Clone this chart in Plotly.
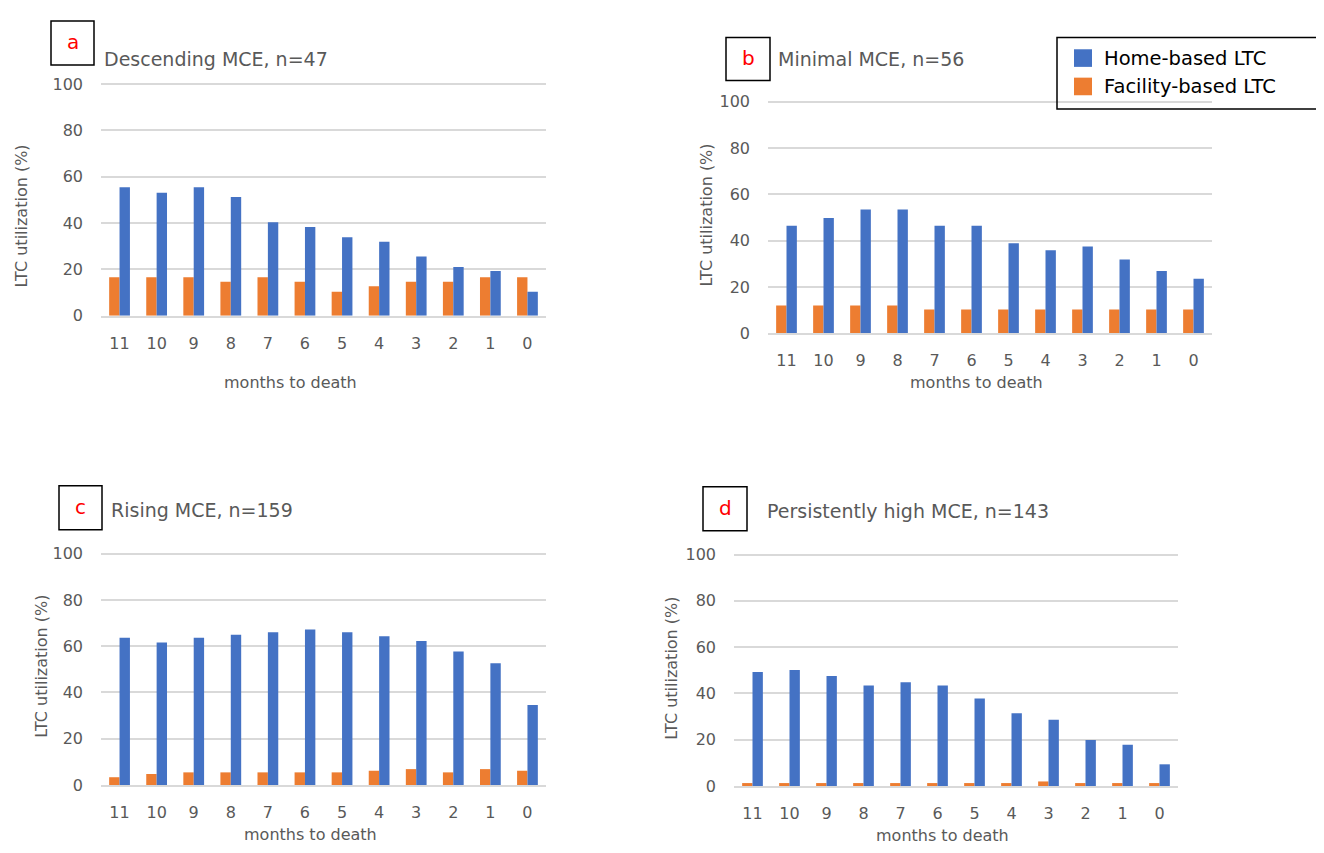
import plotly.graph_objects as go

# ---------------- data ----------------
months = ["11", "10", "9", "8", "7", "6", "5", "4", "3", "2", "1", "0"]

home_a = [55.4, 53.1, 55.4, 51.2, 40.3, 38.3, 33.8, 31.9, 25.5, 21.0, 19.3, 10.3]
fac_a = [16.6, 16.6, 16.6, 14.7, 16.6, 14.7, 10.3, 12.7, 14.7, 14.7, 16.6, 16.6]

home_b = [46.4, 49.8, 53.4, 53.4, 46.4, 46.4, 38.9, 35.8, 37.5, 31.9, 26.9, 23.5]
fac_b = [12.0, 12.0, 12.0, 12.0, 10.3, 10.3, 10.3, 10.3, 10.3, 10.3, 10.3, 10.3]

home_c = [63.6, 61.6, 63.6, 65.0, 66.0, 67.2, 66.0, 64.3, 62.3, 57.7, 52.6, 34.6]
fac_c = [3.4, 4.8, 5.5, 5.5, 5.5, 5.5, 5.5, 6.2, 6.9, 5.5, 6.9, 6.2]

home_d = [49.3, 50.1, 47.5, 43.4, 44.8, 43.4, 37.8, 31.5, 28.7, 19.9, 17.8, 9.4]
fac_d = [1.3, 1.3, 1.3, 1.3, 1.3, 1.3, 1.3, 1.3, 2.0, 1.3, 1.3, 1.3]

panel_letters = ["a", "b", "c", "d"]
panel_titles = ["Descending MCE, n=47", "Minimal MCE, n=56",
                "Rising MCE, n=159", "Persistently high MCE, n=143"]
series_names = ["Home-based LTC", "Facility-based LTC"]
y_ticks = [0, 20, 40, 60, 80, 100]
y_title = "LTC utilization (%)"
x_title = "months to death"

# ---------------- styling ----------------
# the page body has an 8px default margin; size the figure so the page fits the window
OFF = 8
W, H = 1324 - 2 * OFF, 853 - 2 * OFF
BLUE = "#4472C4"
ORANGE = "#ED7D31"
GRID = "#D9D9D9"
TXT = "#595959"
FONT = "DejaVu Sans"


def fx(x):
    return (x - OFF) / W


def fy(y):
    return 1 - (y - OFF) / H


# layout geometry per panel (window pixels)
geo = [
    dict(x0=101, x1=546, ytop=76, ybot=314.3, box=(51, 13, 94, 58), title=(102, 52),
         ytitle=(22, 213), xtitle=(290, 383)),
    dict(x0=768, x1=1212, ytop=94, ybot=332.3, box=(726, 30, 770, 74), title=(776, 52),
         ytitle=(707, 212), xtitle=(976, 383)),
    dict(x0=101, x1=546, ytop=556, ybot=794, box=(59, 488, 102, 533), title=(109, 513),
         ytitle=(42, 673), xtitle=(310, 844)),
    dict(x0=734, x1=1178, ytop=557, ybot=795, box=(703, 489, 747, 534), title=(765, 514),
         ytitle=(672, 675), xtitle=(943, 845)),
]

homes = [home_a, home_b, home_c, home_d]
facs = [fac_a, fac_b, fac_c, fac_d]

fig = go.Figure()
layout = dict(
    width=W, height=H,
    margin=dict(l=0, r=0, t=0, b=0),
    paper_bgcolor="white", plot_bgcolor="white",
    barmode="group", bargap=0.44, bargroupgap=0.0,
    showlegend=False,
    font=dict(family=FONT, color=TXT),
)
shapes = []
annotations = []

for i, g in enumerate(geo):
    n = "" if i == 0 else str(i + 1)
    xa, ya = "x" + n, "y" + n
    fig.add_trace(go.Bar(x=months, y=facs[i], name=series_names[1], marker_color=ORANGE,
                         marker_line_width=0, xaxis=xa, yaxis=ya, legendgroup="f"))
    fig.add_trace(go.Bar(x=months, y=homes[i], name=series_names[0], marker_color=BLUE,
                         marker_line_width=0, xaxis=xa, yaxis=ya, legendgroup="h"))
    layout["xaxis" + n] = dict(
        domain=[fx(g["x0"]), fx(g["x1"])], anchor=ya, type="category",
        showgrid=False, showline=True, linecolor=GRID, linewidth=1.5,
        ticks="", tickfont=dict(size=16, color=TXT, family=FONT),
        ticklabelstandoff=12, fixedrange=True,
    )
    layout["yaxis" + n] = dict(
        domain=[fy(g["ybot"]), fy(g["ytop"])], anchor=xa, range=[0, 100.6],
        tickvals=y_ticks, showgrid=True, gridcolor=GRID, gridwidth=1.5,
        zeroline=False, showline=False, ticks="",
        tickfont=dict(size=16, color=TXT, family=FONT),
        ticklabelstandoff=17, fixedrange=True,
    )
    # panel letter box
    bx0, by0, bx1, by1 = g["box"]
    shapes.append(dict(type="rect", xref="paper", yref="paper",
                       x0=fx(bx0), x1=fx(bx1), y0=fy(by1), y1=fy(by0),
                       line=dict(color="black", width=1.5), fillcolor="rgba(0,0,0,0)"))
    annotations.append(dict(text=panel_letters[i], xref="paper", yref="paper",
                            x=fx((bx0 + bx1) / 2), y=fy((by0 + by1) / 2 - 1),
                            xanchor="center", yanchor="middle", showarrow=False,
                            font=dict(size=20, color="#FF0000", family=FONT)))
    # title
    tx, ty = g["title"]
    annotations.append(dict(text=panel_titles[i], xref="paper", yref="paper",
                            x=fx(tx), y=fy(ty), xanchor="left", yanchor="middle",
                            showarrow=False, font=dict(size=19, color=TXT, family=FONT)))
    # y title
    yx, yy = g["ytitle"]
    annotations.append(dict(text=y_title, xref="paper", yref="paper",
                            x=fx(yx), y=fy(yy), xanchor="center", yanchor="middle",
                            textangle=-90, showarrow=False,
                            font=dict(size=16, color=TXT, family=FONT)))
    # x title
    xx, xy = g["xtitle"]
    annotations.append(dict(text=x_title, xref="paper", yref="paper",
                            x=fx(xx), y=fy(xy), xanchor="center", yanchor="middle",
                            showarrow=False, font=dict(size=16, color=TXT, family=FONT)))

# legend (boxed, top right)
shapes.append(dict(type="rect", xref="paper", yref="paper",
                   x0=fx(1057), x1=fx(1319), y0=fy(103), y1=fy(30),
                   line=dict(color="black", width=1.5), fillcolor="rgba(0,0,0,0)"))
for (name, col, cy) in [(series_names[0], BLUE, 51), (series_names[1], ORANGE, 80)]:
    shapes.append(dict(type="rect", xref="paper", yref="paper",
                       x0=fx(1074), x1=fx(1092), y0=fy(cy + 9), y1=fy(cy - 9),
                       line=dict(width=0), fillcolor=col))
    annotations.append(dict(text=name, xref="paper", yref="paper",
                            x=fx(1102), y=fy(cy), xanchor="left", yanchor="middle",
                            showarrow=False, font=dict(size=19.5, color="black", family=FONT)))

layout["shapes"] = shapes
layout["annotations"] = annotations
fig.update_layout(**layout)
fig.write_html("out.html")
